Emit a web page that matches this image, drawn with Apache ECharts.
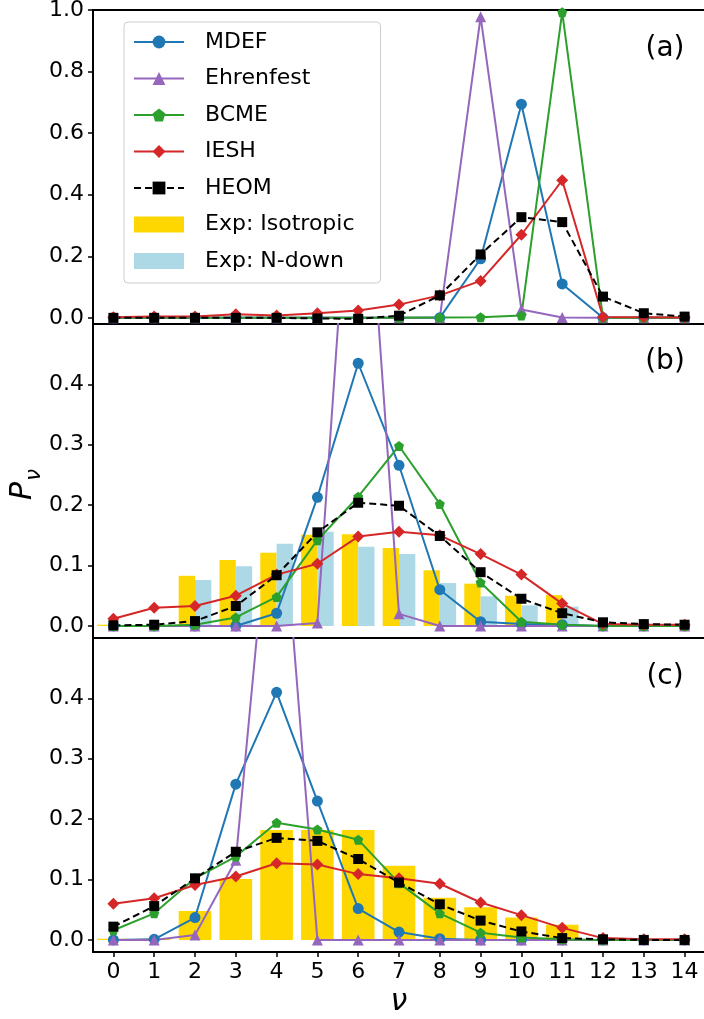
<!DOCTYPE html>
<html><head><meta charset="utf-8">
<script src="https://cdn.jsdelivr.net/npm/echarts@6/dist/echarts.min.js"></script>
<style>html,body{margin:0;padding:0;background:#fff}#c{width:704px;height:1019px}</style>
</head><body><div id="c"></div>
<script>
// ---------- data ----------
const categories = ['0','1','2','3','4','5','6','7','8','9','10','11','12','13','14'];
const yTicksA = [0, 0.2, 0.4, 0.6, 0.8, 1.0];
const yTicksBC = [0, 0.1, 0.2, 0.3, 0.4];

// panel (a)
const mdefA      = [0,0,0,0,0,0,0,0,0,0.192,0.694,0.110,0,0,0];
const ehrenfestA = [0,0,0,0,0,0,0,0,0,0.978,0.027,0.001,0,0,0];
const bcmeA      = [0,0,0,0,0,0,0,0,0.001,0.002,0.008,0.993,0,0,0];
const ieshA      = [0.002,0.004,0.004,0.012,0.008,0.015,0.024,0.043,0.073,0.120,0.270,0.447,0.003,0.002,0.001];
const heomA      = [0,0,0,0,0,-0.002,-0.003,0.007,0.073,0.206,0.327,0.311,0.069,0.015,0.004];

// panel (b)
const mdefB      = [0,0,0,0,0.021,0.213,0.435,0.266,0.060,0.007,0.003,0.002,0,0,0];
const ehrenfestB = [0,0,0,0,0,0.005,0.980,0.020,0,0,0,0,0,0,0];
const bcmeB      = [0,0,0.002,0.014,0.048,0.142,0.214,0.298,0.202,0.072,0.007,0.002,0,0,0];
const ieshB      = [0.012,0.030,0.033,0.050,0.085,0.103,0.148,0.156,0.150,0.119,0.085,0.037,0.003,0.002,0.002];
const heomB      = [0.001,0.002,0.008,0.033,0.084,0.155,0.204,0.199,0.149,0.089,0.045,0.021,0.006,0.003,0.002];
const isoB       = [0.002,0,0.083,0.109,0.121,0.151,0.152,0.129,0.092,0.070,0.050,0.051,0,0,0];
const ndownB     = [0,0,0.076,0.099,0.136,0.156,0.131,0.119,0.071,0.049,0.034,0.032,0,0,0];

// panel (c)
const mdefC      = [0,0.001,0.037,0.258,0.410,0.230,0.052,0.013,0.002,0,0,0,0,0,0];
const ehrenfestC = [0,0,0.008,0.132,0.850,0,0,0,0,0,0,0,0,0,0];
const bcmeC      = [0.016,0.044,0.102,0.138,0.194,0.183,0.166,0.094,0.044,0.012,0.004,0.001,0,0,0];
const ieshC      = [0.060,0.069,0.091,0.105,0.127,0.125,0.109,0.102,0.093,0.062,0.041,0.020,0.003,0.001,0.001];
const heomC      = [0.022,0.056,0.102,0.146,0.169,0.164,0.134,0.095,0.059,0.032,0.014,0.003,0.001,0,0];
const isoC       = [0.002,0.002,0.048,0.101,0.182,0.182,0.182,0.123,0.070,0.054,0.037,0.025,0,0,0];

// ---------- styles ----------
const FONT = 'DejaVu Sans';
const PENTAGON = 'path://M0,-1 L0.951,-0.309 L0.588,0.809 L-0.588,0.809 L-0.951,-0.309 Z';
const methods = [
  {name:'MDEF',      color:'#1f77b4', symbol:'circle',   size:11, dash:'solid'},
  {name:'Ehrenfest', color:'#9467bd', symbol:'triangle', size:11, dash:'solid'},
  {name:'BCME',      color:'#2ca02c', symbol:PENTAGON,   size:10, dash:'solid'},
  {name:'IESH',      color:'#d62728', symbol:'diamond',  size:12, dash:'solid'},
  {name:'HEOM',      color:'#000000', symbol:'rect',     size:10, dash:[7,4]}
];
const panelData = [
  [mdefA, ehrenfestA, bcmeA, ieshA, heomA],
  [mdefB, ehrenfestB, bcmeB, ieshB, heomB],
  [mdefC, ehrenfestC, bcmeC, ieshC, heomC]
];

const gridTops = [10, 324, 638];
const grids = gridTops.map(t => ({
  left: 93, top: t, width: 612, height: 314,
  show: true, borderColor: '#000', borderWidth: 2, backgroundColor: 'transparent',
  containLabel: false, outerBoundsMode: 'none'
}));

function xAxis(g, show) {
  return {
    type: 'category', gridIndex: g, data: categories, boundaryGap: true,
    axisLine: {show: true, onZero: false, lineStyle: {color: '#000', width: 2}},
    axisTick: {show: show, alignWithLabel: true, length: 5, lineStyle: {color: '#000', width: 1.5}},
    axisLabel: {show: show, fontFamily: FONT, fontSize: 22, color: '#000', margin: 9},
    splitLine: {show: false}
  };
}
function yAxis(g, min, max, ticks) {
  return {
    type: 'value', gridIndex: g, min: min, max: max,
    axisLine: {show: true, lineStyle: {color: '#000', width: 2}},
    axisTick: {show: true, length: 5, customValues: ticks, lineStyle: {color: '#000', width: 1.5}},
    axisLabel: {customValues: ticks, formatter: v => v.toFixed(1), fontFamily: FONT, fontSize: 22, color: '#000', margin: 9},
    splitLine: {show: false}
  };
}

const series = [
  {type:'bar', name:'Exp: Isotropic', xAxisIndex:1, yAxisIndex:1, data:isoB, barWidth:'40%', barGap:'0%', itemStyle:{color:'#FFD700'}, silent:true},
  {type:'bar', name:'Exp: N-down', xAxisIndex:1, yAxisIndex:1, data:ndownB, barWidth:'40%', barGap:'0%', itemStyle:{color:'#ADD8E6'}, silent:true},
  {type:'bar', name:'Exp: Isotropic', xAxisIndex:2, yAxisIndex:2, data:isoC, barWidth:'80%', itemStyle:{color:'#FFD700'}, silent:true}
];
panelData.forEach((arrs, p) => {
  methods.forEach((m, i) => {
    series.push({
      type: 'line', name: m.name, xAxisIndex: p, yAxisIndex: p, data: arrs[i],
      symbol: m.symbol, symbolSize: m.size, showSymbol: true, showAllSymbol: true,
      itemStyle: {color: m.color, borderWidth: 0},
      lineStyle: {color: m.color, width: 2, type: m.dash},
      clip: true, z: 3, silent: true
    });
  });
});

const chart = echarts.init(document.getElementById('c'), null, {renderer: 'canvas'});
chart.setOption({
  animation: false,
  backgroundColor: '#fff',
  grid: grids,
  xAxis: [xAxis(0, false), xAxis(1, false), xAxis(2, true)],
  yAxis: [yAxis(0, -0.02, 1.0, yTicksA), yAxis(1, -0.02, 0.5, yTicksBC), yAxis(2, -0.02, 0.5, yTicksBC)],
  legend: {
    orient: 'vertical', left: 124, top: 22, padding: [9, 26, 11, 9],
    itemGap: 14.5, itemWidth: 50, itemHeight: 16,
    backgroundColor: 'rgba(255,255,255,0.8)', borderColor: '#cccccc', borderWidth: 1, borderRadius: 4,
    selectedMode: false,
    textStyle: {fontFamily: FONT, fontSize: 22, color: '#000', padding: [0, 0, 0, 16]},
    data: ['MDEF', 'Ehrenfest', 'BCME', 'IESH', 'HEOM',
           {name: 'Exp: Isotropic', icon: 'rect'}, {name: 'Exp: N-down', icon: 'rect'}]
  },
  graphic: [
    {type:'text', x:665, y:49, z:10, style:{text:'(a)', fontFamily:FONT, fontSize:28, fill:'#000', align:'center', verticalAlign:'middle'}},
    {type:'text', x:665, y:362, z:10, style:{text:'(b)', fontFamily:FONT, fontSize:28, fill:'#000', align:'center', verticalAlign:'middle'}},
    {type:'text', x:665, y:677, z:10, style:{text:'(c)', fontFamily:FONT, fontSize:28, fill:'#000', align:'center', verticalAlign:'middle'}},
    {type:'text', x:399, y:1002, z:10, style:{text:'ν', fontFamily:FONT, fontStyle:'italic', fontSize:30, fill:'#000', align:'center', verticalAlign:'middle'}},
    {type:'text', x:23, y:491, rotation:Math.PI/2, z:10, style:{text:'P', fontFamily:FONT, fontStyle:'italic', fontSize:30, fill:'#000', align:'center', verticalAlign:'middle'}},
    {type:'text', x:35, y:475, rotation:Math.PI/2, z:10, style:{text:'ν', fontFamily:FONT, fontStyle:'italic', fontSize:21, fill:'#000', align:'center', verticalAlign:'middle'}}
  ],
  series: series
});
</script></body></html>
